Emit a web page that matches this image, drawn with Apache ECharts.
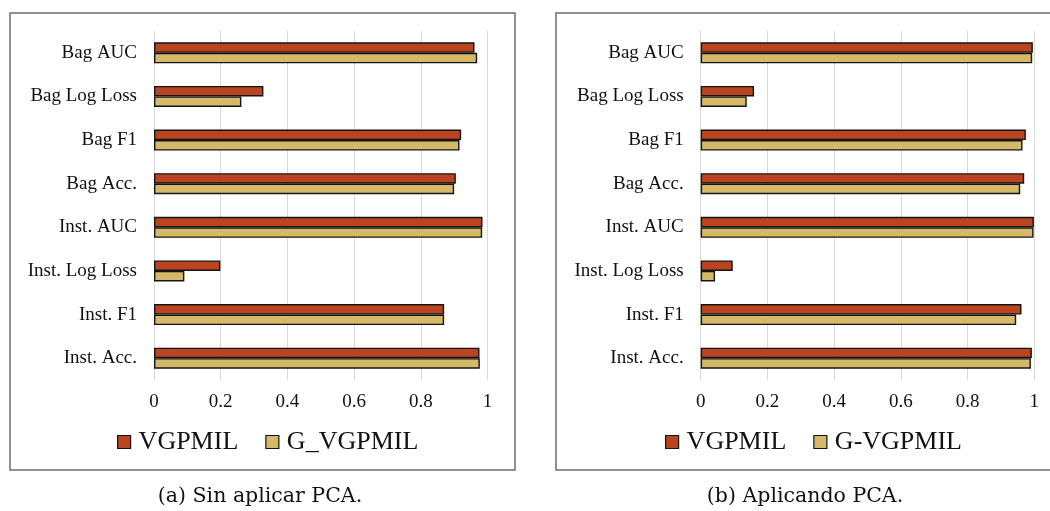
<!DOCTYPE html>
<html>
<head>
<meta charset="utf-8">
<script src="https://cdn.jsdelivr.net/npm/echarts@6/dist/echarts.min.js"></script>
<style>
html,body{margin:0;padding:0;background:#fff;}
#chart{width:1050px;height:511px;}
</style>
</head>
<body>
<div id="chart"></div>
<script>
// Categories, top to bottom
const categories = ['Bag AUC', 'Bag Log Loss', 'Bag F1', 'Bag Acc.', 'Inst. AUC', 'Inst. Log Loss', 'Inst. F1', 'Inst. Acc.'];
const xTicks = [0, 0.2, 0.4, 0.6, 0.8, 1];

// (a) Sin aplicar PCA
const leftVGPMIL  = [0.961, 0.328, 0.921, 0.905, 0.985, 0.199, 0.870, 0.976];
const leftGVGPMIL = [0.969, 0.262, 0.916, 0.900, 0.984, 0.091, 0.870, 0.977];

// (b) Aplicando PCA
const rightVGPMIL  = [0.996, 0.160, 0.975, 0.970, 0.999, 0.096, 0.962, 0.993];
const rightGVGPMIL = [0.994, 0.138, 0.965, 0.958, 0.998, 0.043, 0.946, 0.990];

const seriesNames = { red: 'VGPMIL', goldLeft: 'G_VGPMIL', goldRight: 'G-VGPMIL' };
const captions = ['(a) Sin aplicar PCA.', '(b) Aplicando PCA.'];

const RED = '#BA441F';
const GOLD = '#D5B968';
const BORDER = '#141414';
const FONT = 'Liberation Serif';
const TXT = '#111';

function xAxis(gi) {
  return {
    type: 'value', gridIndex: gi, min: 0, max: 1, interval: 0.2,
    axisLine: { show: false }, axisTick: { show: false },
    splitLine: { show: true, lineStyle: { color: '#d9d9d9', width: 1 } },
    axisLabel: { margin: 13, fontFamily: FONT, fontSize: 19, color: TXT,
      formatter: v => String(Math.round(v * 10) / 10) }
  };
}
function yAxis(gi) {
  return {
    type: 'category', gridIndex: gi, data: categories, inverse: true,
    axisLine: { show: false }, axisTick: { show: false },
    axisLabel: { margin: 17, fontFamily: FONT, fontSize: 19, color: TXT }
  };
}
function bar(name, gi, data, color) {
  return {
    name, type: 'bar', xAxisIndex: gi, yAxisIndex: gi, data,
    barWidth: 10.5, barGap: '0%',
    itemStyle: { color, borderColor: BORDER, borderWidth: 1.4 },
    silent: true, animation: false
  };
}
function legend(left, names) {
  return {
    left, top: 429, padding: 0, data: names, icon: 'rect',
    itemWidth: 13, itemHeight: 13, itemGap: 27,
    itemStyle: { borderColor: BORDER, borderWidth: 1.2 },
    textStyle: { fontFamily: FONT, fontSize: 26, color: TXT, padding: [0, 0, 0, 3] }
  };
}

const chart = echarts.init(document.getElementById('chart'), null, { renderer: 'canvas' });
chart.setOption({
  animation: false,
  backgroundColor: '#fff',
  grid: [
    { left: 154, top: 31, width: 333.5, height: 349, containLabel: false },
    { left: 700.7, top: 31, width: 333.5, height: 349, containLabel: false }
  ],
  xAxis: [xAxis(0), xAxis(1)],
  yAxis: [yAxis(0), yAxis(1)],
  legend: [
    legend(117, [seriesNames.red, seriesNames.goldLeft]),
    legend(665, [seriesNames.red, seriesNames.goldRight])
  ],
  series: [
    bar(seriesNames.red, 0, leftVGPMIL, RED),
    bar(seriesNames.goldLeft, 0, leftGVGPMIL, GOLD),
    bar(seriesNames.red, 1, rightVGPMIL, RED),
    bar(seriesNames.goldRight, 1, rightGVGPMIL, GOLD)
  ],
  graphic: [
    { type: 'rect', shape: { x: 10, y: 13, width: 505, height: 457 },
      style: { fill: 'none', stroke: '#6e6e6e', lineWidth: 1.5 }, silent: true, z: -1 },
    { type: 'rect', shape: { x: 556, y: 13, width: 505, height: 457 },
      style: { fill: 'none', stroke: '#6e6e6e', lineWidth: 1.5 }, silent: true, z: -1 },
    { type: 'text', x: 260, y: 497, silent: true,
      style: { text: captions[0], fontFamily: 'DejaVu Serif', fontSize: 20.5, fill: TXT,
        align: 'center', verticalAlign: 'middle' } },
    { type: 'text', x: 805, y: 497, silent: true,
      style: { text: captions[1], fontFamily: 'DejaVu Serif', fontSize: 20.5, fill: TXT,
        align: 'center', verticalAlign: 'middle' } }
  ]
});
</script>
</body>
</html>
